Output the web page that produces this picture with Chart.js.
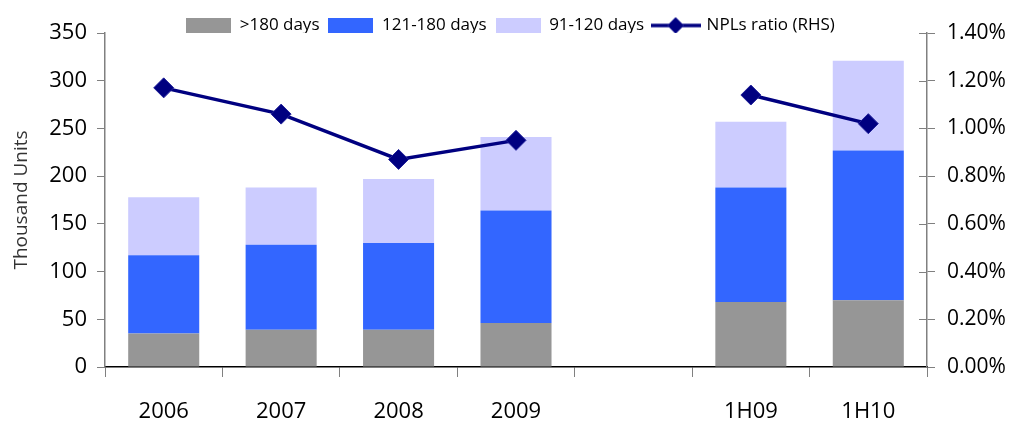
<!DOCTYPE html>
<html>
<head>
<meta charset="utf-8">
<script src="https://cdn.jsdelivr.net/npm/chart.js@4/dist/chart.umd.min.js"></script>
<style>
  html, body { margin: 0; padding: 0; background: #fff; }
  #wrap { width: 1009px; height: 424px; }
</style>
</head>
<body>
<div id="wrap"><canvas id="c" width="1009" height="424"></canvas></div>
<script>
// Non-performing loans by days overdue (thousand units) and NPL ratio (%)
const categories = ['2006', '2007', '2008', '2009', '', '1H09', '1H10'];
const over180 = [35, 39, 39, 46, null, 68, 70];
const d121to180 = [82, 89, 91, 118, null, 120, 157];
const d91to120 = [61, 60, 67, 77, null, 69, 94];
const nplRatio = [1.17, 1.06, 0.87, 0.95, null, 1.14, 1.02];
const leftTicks = [0, 50, 100, 150, 200, 250, 300, 350];
const rightTicks = [0, 0.2, 0.4, 0.6, 0.8, 1.0, 1.2, 1.4];

const FONT = "'Open Sans', 'DejaVu Sans', sans-serif";
const GRAY = '#969696', BLUE = '#3366FF', LAV = '#CCCCFF', NAVY = '#000080';

// legend swatches drawn on small canvases
function swatch(color) {
  const c = document.createElement('canvas');
  c.width = 45; c.height = 16;
  const g = c.getContext('2d');
  g.fillStyle = color; g.fillRect(0, 0, 45, 16);
  return c;
}
function lineSwatch() {
  const c = document.createElement('canvas');
  c.width = 50; c.height = 18;
  const g = c.getContext('2d');
  g.strokeStyle = NAVY; g.lineWidth = 3.5;
  g.beginPath(); g.moveTo(0, 9); g.lineTo(50, 9); g.stroke();
  g.fillStyle = NAVY; g.strokeStyle = '#22229a'; g.lineWidth = 1;
  g.beginPath(); g.moveTo(25, 1); g.lineTo(33, 9); g.lineTo(25, 17); g.lineTo(17, 9); g.closePath();
  g.fill(); g.stroke();
  return c;
}
const legendIcons = [swatch(GRAY), swatch(BLUE), swatch(LAV), lineSwatch()];

// fixed legend band height, legend offset, and inner half of the right-axis ticks
const layoutPlugin = {
  id: 'layoutTweaks',
  beforeLayout(chart) {
    const lg = chart.legend;
    if (lg && !lg._fixed) {
      const fit = lg.fit.bind(lg);
      lg.fit = function () { fit(); this.height = 33; };
      lg._fixed = true;
    }
  },
  afterLayout(chart) {
    const lg = chart.legend;
    if (lg) { lg.top = 8; lg.left += 12; }
  },
  afterDatasetsDraw(chart) {
    const s = chart.scales.y1;
    const ctx = chart.ctx;
    ctx.save();
    ctx.strokeStyle = '#808080';
    ctx.lineWidth = 1;
    rightTicks.forEach(v => {
      const y = Math.round(s.getPixelForValue(v)) + 0.5;
      ctx.beginPath(); ctx.moveTo(s.left - 8, y); ctx.lineTo(s.left, y); ctx.stroke();
    });
    ctx.restore();
  }
};

new Chart(document.getElementById('c'), {
  data: {
    labels: categories,
    datasets: [
      { type: 'bar', label: '>180 days', data: over180, backgroundColor: GRAY, stack: 's', order: 2, yAxisID: 'y' },
      { type: 'bar', label: '121-180 days', data: d121to180, backgroundColor: BLUE, stack: 's', order: 2, yAxisID: 'y' },
      { type: 'bar', label: '91-120 days', data: d91to120, backgroundColor: LAV, stack: 's', order: 2, yAxisID: 'y' },
      {
        type: 'line', label: 'NPLs ratio (RHS)', data: nplRatio, yAxisID: 'y1', order: 1,
        borderColor: NAVY, borderWidth: 3.5, backgroundColor: NAVY,
        pointStyle: 'rectRot', pointRadius: 10, pointHoverRadius: 10,
        pointBackgroundColor: NAVY, pointBorderColor: '#22229a', pointBorderWidth: 1,
        spanGaps: false, tension: 0
      }
    ]
  },
  options: {
    responsive: false,
    animation: false,
    devicePixelRatio: 1,
    layout: { padding: { top: 0, left: 0, right: 0, bottom: 0 } },
    datasets: { bar: { barPercentage: 0.605, categoryPercentage: 1 } },
    plugins: {
      tooltip: { enabled: false },
      legend: {
        position: 'top',
        align: 'center',
        labels: {
          usePointStyle: true,
          pointStyleWidth: 45,
          padding: 9,
          color: '#000',
          font: { family: FONT, size: 17 },
          generateLabels(chart) {
            return chart.data.datasets.map((ds, i) => ({
              text: ds.label,
              pointStyle: legendIcons[i],
              fillStyle: 'transparent',
              strokeStyle: 'transparent',
              lineWidth: 0,
              hidden: false,
              datasetIndex: i,
              fontColor: '#000'
            }));
          }
        }
      }
    },
    scales: {
      x: {
        stacked: true,
        offset: true,
        grid: { display: true, drawOnChartArea: false, drawTicks: true, tickLength: 10, color: '#808080', offset: true },
        border: { display: true, color: '#000', width: 1.5 },
        ticks: { color: '#000', font: { family: FONT, size: 22 }, padding: 22, maxRotation: 0, autoSkip: false },
        afterFit(scale) { scale.height = 57; }
      },
      y: {
        stacked: true,
        position: 'left',
        min: 0, max: 350,
        afterBuildTicks(scale) { scale.ticks = leftTicks.map(v => ({ value: v })); },
        grid: { display: true, drawOnChartArea: false, drawTicks: true, tickLength: 8, color: '#808080' },
        border: { display: true, color: '#808080', width: 1.5 },
        ticks: { color: '#000', font: { family: FONT, size: 22 }, padding: 10 },
        title: { display: true, text: 'Thousand Units', color: '#333', font: { family: FONT, size: 19 }, padding: { top: 10, bottom: 0 } },
        afterFit(scale) { scale.width = 105; }
      },
      y1: {
        position: 'right',
        min: 0, max: 1.4,
        afterBuildTicks(scale) { scale.ticks = rightTicks.map(v => ({ value: v })); },
        grid: { display: true, drawOnChartArea: false, drawTicks: true, tickLength: 8, color: '#808080' },
        border: { display: true, color: '#808080', width: 1.5 },
        ticks: { color: '#000', font: { family: FONT, size: 21 }, padding: 12, callback: v => v.toFixed(2) + '%' },
        afterFit(scale) { scale.width = 82; }
      }
    }
  },
  plugins: [layoutPlugin]
});
</script>
</body>
</html>
